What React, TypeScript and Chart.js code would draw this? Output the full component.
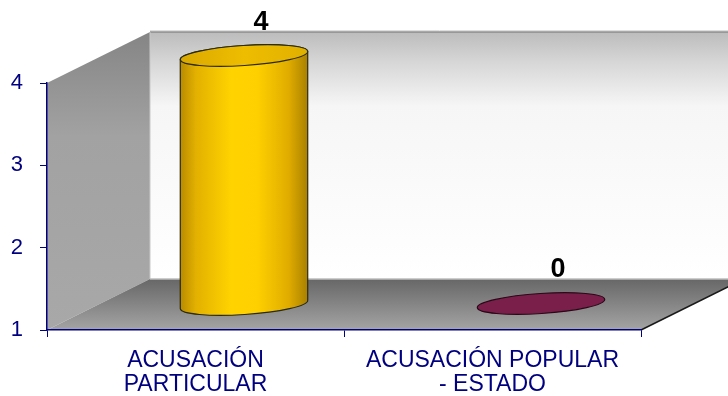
import React, { useEffect, useRef } from 'react';
import { Chart, registerables } from 'chart.js';

Chart.register(...registerables);

const categories: string[][] = [
  ['ACUSACIÓN', 'PARTICULAR'],
  ['ACUSACIÓN POPULAR', '- ESTADO'],
];
const values: number[] = [4, 0];
const valueLabels: string[] = ['4', '0'];
const barColors: string[] = ['#ffcc00', '#7a1f4a'];
const yMin = 1;
const yMax = 4;

const DX = 103;
const DY = -51;
const NAVY = '#000080';
const FONT = "'Liberation Sans', Arial, sans-serif";

const threeD = {
  id: 'threeD',
  beforeDraw(chart: any) {
    const { ctx, chartArea } = chart;
    const L = chartArea.left, R = chartArea.right, T = chartArea.top, B = chartArea.bottom;
    ctx.save();
    // back wall
    const bg = ctx.createLinearGradient(0, T + DY, 0, B + DY);
    bg.addColorStop(0, '#bcbcbc');
    bg.addColorStop(0.12, '#d6d6d6');
    bg.addColorStop(0.3, '#f6f6f6');
    bg.addColorStop(1, '#ffffff');
    ctx.fillStyle = bg;
    ctx.fillRect(L + DX, T + DY, R - L, B - T);
    ctx.strokeStyle = '#dedede';
    ctx.lineWidth = 1;
    ctx.beginPath();
    ctx.moveTo(L + DX, T + DY - 1.5);
    ctx.lineTo(R + DX, T + DY - 1.5);
    ctx.stroke();
    ctx.strokeStyle = '#8c8c8c';
    ctx.lineWidth = 1.5;
    ctx.beginPath();
    ctx.moveTo(L + DX, T + DY);
    ctx.lineTo(R + DX, T + DY);
    ctx.stroke();
    // left wall
    const lg = ctx.createLinearGradient(0, T + DY, 0, B);
    lg.addColorStop(0, '#858585');
    lg.addColorStop(0.35, '#a2a2a2');
    lg.addColorStop(1, '#a8a8a8');
    ctx.fillStyle = lg;
    ctx.beginPath();
    ctx.moveTo(L, T);
    ctx.lineTo(L + DX, T + DY);
    ctx.lineTo(L + DX, B + DY);
    ctx.lineTo(L, B);
    ctx.closePath();
    ctx.fill();
    ctx.strokeStyle = '#c8c8c8';
    ctx.lineWidth = 1;
    ctx.beginPath();
    ctx.moveTo(L + DX, T + DY);
    ctx.lineTo(L + DX, B + DY);
    ctx.stroke();
    // floor
    const fg = ctx.createLinearGradient(0, B + DY, 0, B);
    fg.addColorStop(0, '#676767');
    fg.addColorStop(1, '#a4a4a4');
    ctx.fillStyle = fg;
    ctx.beginPath();
    ctx.moveTo(L, B);
    ctx.lineTo(R, B);
    ctx.lineTo(R + DX, B + DY);
    ctx.lineTo(L + DX, B + DY);
    ctx.closePath();
    ctx.fill();
    ctx.strokeStyle = '#bdbdbd';
    ctx.lineWidth = 1.5;
    ctx.beginPath();
    ctx.moveTo(L + DX, B + DY);
    ctx.lineTo(R + DX, B + DY);
    ctx.stroke();
    ctx.strokeStyle = '#1a1a1a';
    ctx.lineWidth = 1.5;
    ctx.beginPath();
    ctx.moveTo(R, B);
    ctx.lineTo(R + DX, B + DY);
    ctx.stroke();
    ctx.restore();
  },
  afterDatasetsDraw(chart: any) {
    const { ctx } = chart;
    const yScale = chart.scales.y;
    const meta = chart.getDatasetMeta(0);
    const rot = -0.065;
    ctx.save();
    meta.data.forEach((bar: any, i: number) => {
      const v = values[i];
      const cx = bar.x + DX / 2 - 3;
      const rx = bar.width / 2;
      const ry = 10;
      const yBot = yScale.getPixelForValue(yMin) + DY / 2;
      const clamped = Math.max(yMin, Math.min(yMax, v));
      const yTop = yScale.getPixelForValue(clamped) + DY / 2 - 2;
      ctx.lineWidth = 1.2;
      ctx.strokeStyle = '#2a2a10';
      if (v > yMin) {
        const g = ctx.createLinearGradient(cx - rx, 0, cx + rx, 0);
        g.addColorStop(0, '#b88a00');
        g.addColorStop(0.12, '#e2b000');
        g.addColorStop(0.4, '#ffd300');
        g.addColorStop(0.6, '#ffd000');
        g.addColorStop(0.85, '#e0ac00');
        g.addColorStop(1, '#a98000');
        ctx.fillStyle = g;
        ctx.beginPath();
        ctx.moveTo(cx - rx * Math.cos(rot), yTop - rx * Math.sin(rot));
        ctx.ellipse(cx, yBot, rx, ry, rot, Math.PI, 0, true);
        ctx.ellipse(cx, yTop, rx, ry, rot, 0, Math.PI, true);
        ctx.closePath();
        ctx.fill();
        ctx.stroke();
        const tg = ctx.createLinearGradient(cx - rx, 0, cx + rx, 0);
        tg.addColorStop(0, '#d9a800');
        tg.addColorStop(0.5, '#eebd00');
        tg.addColorStop(1, '#e0b000');
        ctx.fillStyle = tg;
        ctx.beginPath();
        ctx.ellipse(cx, yTop, rx, ry, rot, 0, Math.PI * 2);
        ctx.fill();
        ctx.stroke();
      } else {
        ctx.fillStyle = barColors[i];
        ctx.strokeStyle = '#2a0818';
        ctx.beginPath();
        ctx.ellipse(cx, yBot - 1, rx, ry, rot, 0, Math.PI * 2);
        ctx.fill();
        ctx.stroke();
      }
      // value label
      const yBack = yScale.getPixelForValue(clamped) + DY;
      ctx.fillStyle = '#000000';
      ctx.font = `bold 27px ${FONT}`;
      ctx.textAlign = 'center';
      ctx.textBaseline = 'middle';
      ctx.fillText(valueLabels[i], bar.x + DX / 2 + 14, yBack - 9);
    });
    ctx.restore();
  },
};

export default function App() {
  const ref = useRef<HTMLCanvasElement | null>(null);
  useEffect(() => {
    if (!ref.current) return;
    const chart = new Chart(ref.current, {
      type: 'bar',
      data: {
        labels: categories as any,
        datasets: [
          {
            data: values,
            backgroundColor: 'rgba(0,0,0,0)',
            borderWidth: 0,
            categoryPercentage: 1,
            barPercentage: 0.43,
          },
        ],
      },
      options: {
        responsive: false,
        animation: false,
        layout: { padding: { top: 83, right: 87, left: 0, bottom: 0 } },
        plugins: { legend: { display: false }, tooltip: { enabled: false } },
        scales: {
          x: {
            afterFit: (s: any) => { s.height = 66; },
            grid: { display: true, drawOnChartArea: false, drawTicks: true, tickLength: 7, color: NAVY, lineWidth: 1, offset: true },
            border: { display: true, color: NAVY, width: 1.5 },
            ticks: { color: NAVY, font: { family: FONT, size: 23, lineHeight: 1.02 }, padding: 12, maxRotation: 0, autoSkip: false },
          },
          y: {
            min: yMin,
            max: yMax,
            afterFit: (s: any) => { s.width = 47; },
            grid: { display: true, drawOnChartArea: false, drawTicks: true, tickLength: 7, color: NAVY, lineWidth: 1 },
            border: { display: true, color: NAVY, width: 1.5 },
            ticks: { stepSize: 1, color: NAVY, font: { family: FONT, size: 22 }, padding: 17 },
          },
        },
      },
      plugins: [threeD],
    });
    return () => chart.destroy();
  }, []);
  return (
    <div style={{ position: 'fixed', left: 0, top: 0, width: 728, height: 396, background: '#fff' }}>
      <canvas ref={ref} width={728} height={396} />
    </div>
  );
}
